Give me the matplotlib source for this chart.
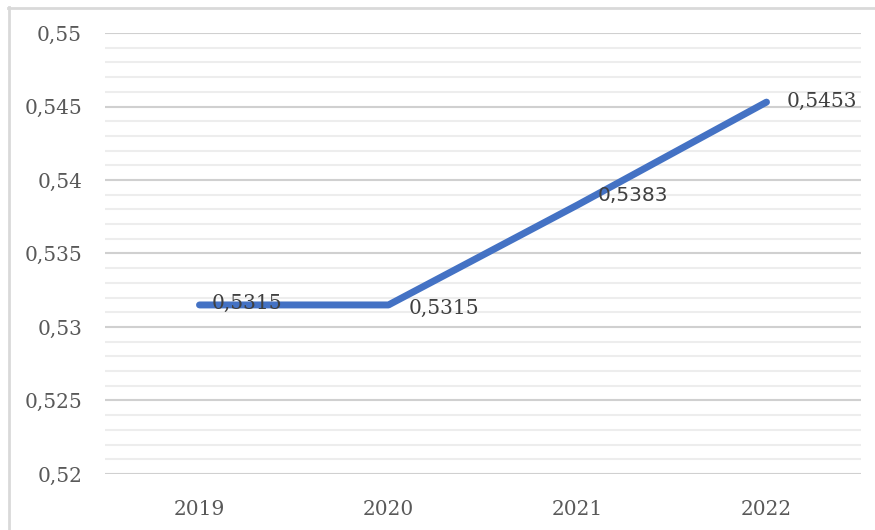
import numpy as np
import matplotlib.pyplot as plt
from matplotlib.lines import Line2D
from matplotlib.ticker import MultipleLocator, FuncFormatter

# dados
anos = ['2019', '2020', '2021', '2022']
valores = [0.5315, 0.5315, 0.5383, 0.5453]
rotulos = ['0,5315', '0,5315', '0,5383', '0,5453']

fig = plt.figure(figsize=(8.75, 5.3), dpi=100)
ax = fig.add_axes([0.12, 0.1057, 0.864, 0.832])

x = np.arange(len(anos))
ax.plot(x, valores, color='#4472C4', linewidth=5, solid_capstyle='round',
        solid_joinstyle='round', zorder=3)

# rótulos de dados (deslocamento em pixels)
desloc = [(12, 2), (20, -3), (20, 9), (20, 1)]
fontes = ['DejaVu Serif', 'DejaVu Serif', 'DejaVu Sans', 'DejaVu Serif']
for xi, yi, txt, (dx, dy), f in zip(x, valores, rotulos, desloc, fontes):
    ax.annotate(txt, (xi, yi), xytext=(dx * 0.72, dy * 0.72), textcoords='offset points',
                ha='left', va='center', fontsize=14.5, color='#404040',
                family=f, zorder=4)

ax.set_xlim(-0.5, 3.5)
ax.set_ylim(0.52, 0.55)
ax.set_xticks(x)
ax.set_xticklabels(anos)
ax.yaxis.set_major_locator(MultipleLocator(0.005))
ax.yaxis.set_minor_locator(MultipleLocator(0.001))
ax.yaxis.set_major_formatter(FuncFormatter(lambda v, p: ('%g' % round(v, 4)).replace('.', ',')))

ax.grid(which='major', axis='y', color='#d0d0d0', linewidth=1.5)
ax.grid(which='minor', axis='y', color='#ededed', linewidth=1.5)
ax.set_axisbelow(True)
for s in ax.spines.values():
    s.set_visible(False)
ax.tick_params(which='both', length=0)
ax.tick_params(axis='y', pad=16.5, labelsize=14.5, labelcolor='#595959')
ax.tick_params(axis='x', pad=18.5, labelsize=14.5, labelcolor='#595959')
for lb in ax.get_xticklabels() + ax.get_yticklabels():
    lb.set_family('DejaVu Serif')

# moldura do gráfico
fig.add_artist(Line2D([8.5 / 875, 8.5 / 875], [0, 1 - 7 / 530], color='#d9d9d9', linewidth=2))
fig.add_artist(Line2D([8 / 875, 1], [1 - 7.5 / 530, 1 - 7.5 / 530], color='#d9d9d9', linewidth=2))

fig.savefig('out.png', dpi=100)
